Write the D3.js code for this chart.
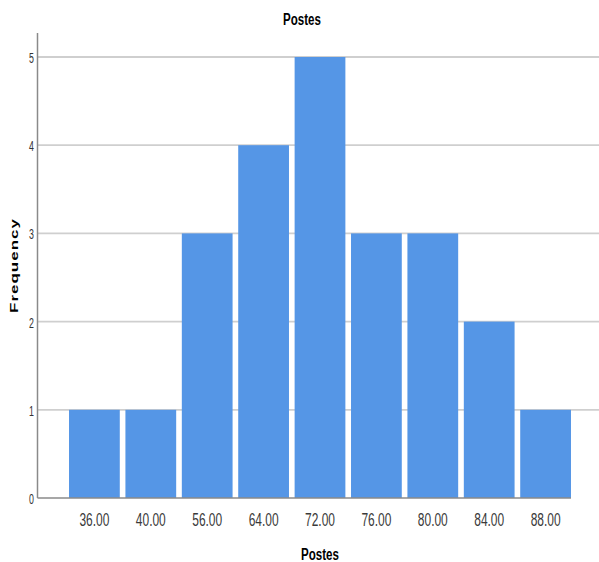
<!DOCTYPE html>
<html><head><meta charset="utf-8">
<script src="https://cdn.jsdelivr.net/npm/d3@7"></script>
<style>body{margin:0;background:#fff}</style>
</head><body>
<svg id="c" width="599" height="562"></svg>
<script>
const categories = ["36.00","40.00","56.00","64.00","72.00","76.00","80.00","84.00","88.00"];
const frequencies = [1,1,3,4,5,3,3,2,1];
const yTicks = [0,1,2,3,4,5];
const chartTitle = "Postes", xTitle = "Postes", yTitle = "Frequency";

(function(){
const svg = d3.select("#c");
const mLeft = 37.5, mRight = 599, mTop = 33, mBottom = 498;
const sx = 0.63; // horizontal squeeze of text
const font = "'Liberation Sans',Arial,sans-serif";
const x = d3.scaleBand().domain(categories).range([66.2, 573.8]).paddingInner(0.1).paddingOuter(0.05);
const y = d3.scaleLinear().domain([0,5]).range([mBottom, 57]);

// grid
svg.append("g").selectAll("line").data(yTicks.filter(d=>d>0)).join("line")
  .attr("x1", mLeft).attr("x2", mRight).attr("y1", d=>y(d)).attr("y2", d=>y(d))
  .attr("stroke", "#cfcfcf").attr("stroke-width", 1.8);

// bars
svg.append("g").selectAll("rect").data(categories).join("rect")
  .attr("x", d=>x(d)).attr("width", x.bandwidth())
  .attr("y", (d,i)=>y(frequencies[i])).attr("height", (d,i)=>y(0)-y(frequencies[i]))
  .attr("fill", "#5596e6");

// axes lines
svg.append("line").attr("x1", mLeft).attr("x2", mLeft).attr("y1", mTop).attr("y2", mBottom)
  .attr("stroke", "#8a8a8a").attr("stroke-width", 1.5);
svg.append("line").attr("x1", mLeft).attr("x2", x(categories[categories.length-1]) + x.bandwidth()).attr("y1", mBottom).attr("y2", mBottom)
  .attr("stroke", "#8a8a8a").attr("stroke-width", 1.5);

// y tick labels
svg.append("g").selectAll("text").data(yTicks).join("text")
  .attr("transform", d=>`translate(34,${y(d)+1}) scale(${sx},1)`)
  .attr("dy", "0.35em").attr("text-anchor", "end")
  .attr("font-family", font).attr("font-size", 14).attr("fill", "#333")
  .text(d=>d);

// x tick labels
svg.append("g").selectAll("text").data(categories).join("text")
  .attr("transform", d=>`translate(${x(d)+x.bandwidth()/2},526) scale(${sx},1)`)
  .attr("text-anchor", "middle")
  .attr("font-family", font).attr("font-size", 19).attr("fill", "#3a3a3a")
  .text(d=>d);

// titles
svg.append("text").attr("transform", `translate(302,25) scale(0.68,1)`).attr("text-anchor", "middle")
  .attr("font-family", font).attr("font-weight", "bold")
  .attr("font-size", 17).attr("fill", "#000").text(chartTitle);
svg.append("text").attr("transform", `translate(320,559.5) scale(0.68,1)`).attr("text-anchor", "middle")
  .attr("font-family", font).attr("font-weight", "bold")
  .attr("font-size", 17).attr("fill", "#000").text(xTitle);
svg.append("text").attr("transform", "translate(17.5,265.5) scale(0.65,1) rotate(-90)").attr("text-anchor", "middle")
  .attr("font-family", font).attr("font-weight", "bold")
  .attr("font-size", 17).attr("letter-spacing", 1).attr("fill", "#000").text(yTitle);
})();
</script>
</body></html>
